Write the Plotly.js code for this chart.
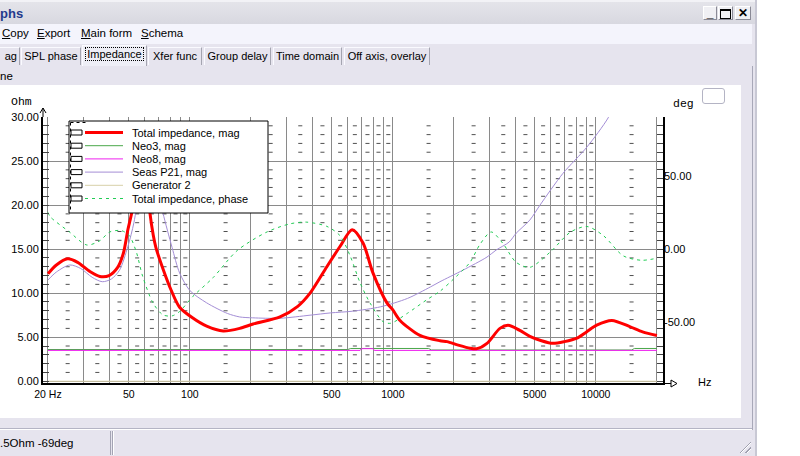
<!DOCTYPE html>
<html>
<head>
<meta charset="utf-8">
<script src="https://cdn.plot.ly/plotly-3.0.1.min.js"></script>
<style>
  html, body { margin:0; padding:0; width:800px; height:456px; overflow:hidden; background:#ffffff; font-family:"Liberation Sans", Arial, sans-serif; font-size:11px; color:#000; }
  .abs { position:absolute; white-space:nowrap; }
  #win { left:0; top:0; width:756px; height:456px; background:#e6e4ee; }
  #titlebar { left:0; top:0; width:756px; height:24px; background:linear-gradient(#e4e4ea,#d8d8e0); border-top:2px solid #f2f2f6; box-sizing:border-box; }
  #ttl { left:0; top:4px; font-weight:bold; font-size:13px; color:#243a8c; }
  .wbtn { top:6px; height:14px; background:#f0f0f4; border:1px solid #ffffff; border-right-color:#8a8a96; border-bottom-color:#8a8a96; box-sizing:border-box; font-weight:bold; font-size:12px; line-height:12px; text-align:center; }
  #menubar { left:0; top:24px; width:752px; height:20px; background:#f4f4fc; }
  .mi { top:3px; font-size:11.5px; }
  #tabbar { left:0; top:44px; width:752px; height:22px; background:#e6e4ee; }
  .tab { top:3px; height:18px; box-sizing:border-box; border:1px solid #fafaff; border-right-color:#a4a4b0; border-bottom:none; text-align:center; line-height:16px; font-size:11px; overflow:hidden; }
  .tab.sel { top:1px; height:21px; background:#eeeef6; }
  .tab.sel span { border:1px dotted #000; padding:0 1px; }
  #panel { left:0; top:85px; width:741px; height:333px; background:#ffffff; }
  #smallbtn { left:702px; top:88px; width:23px; height:16px; border:1px solid #b4b4c4; border-radius:3px; box-sizing:border-box; background:#fff; }
  #rborder { left:752px; top:66px; width:1px; height:364px; background:#a8a8b8; }
  #rborder2 { left:755px; top:0px; width:2px; height:456px; background:#c8c8d4; }
  #sline1 { left:0; top:428px; width:752px; height:1px; background:#b4b4c4; }
  #sline2 { left:0; top:429px; width:752px; height:1px; background:#ffffff; }
  #sp1 { left:0; top:431px; width:110px; height:24px; border-right:1px solid #a4a4b4; }
  #sp2 { left:112px; top:431px; width:1px; height:24px; background:#a4a4b4; }
  #sp3 { left:113px; top:431px; width:1px; height:24px; background:#ffffff; }
  #stxt { left:0; top:437px; font-size:11.5px; }
  #grip { left:738px; top:440px; width:13px; height:13px; background:repeating-linear-gradient(135deg, transparent 0 2px, #a0a0b0 2px 3px, #ffffff 3px 4px); clip-path:polygon(100% 0,100% 100%,0 100%); }
  #plot { left:0; top:0; width:800px; height:456px; }
</style>
</head>
<body>
<div id="win" class="abs"></div>
<div id="titlebar" class="abs"><div id="ttl" class="abs">phs</div></div>
<div class="abs wbtn" style="left:703px;width:14px;">_</div>
<div class="abs wbtn" style="left:718px;width:15px;"><div style="margin:2px auto 0;width:9px;height:7px;border:1px solid #000;border-top-width:2px;"></div></div>
<div class="abs wbtn" style="left:735px;width:16px;">✕</div>
<div id="menubar" class="abs">
  <span class="abs mi" style="left:2px"><u>C</u>opy</span>
  <span class="abs mi" style="left:37px"><u>E</u>xport</span>
  <span class="abs mi" style="left:81px"><u>M</u>ain form</span>
  <span class="abs mi" style="left:141px"><u>S</u>chema</span>
</div>
<div id="tabbar" class="abs">
  <div class="abs tab" style="left:-20px;width:40px;text-align:right;padding-right:2px;">ag</div>
  <div class="abs tab" style="left:21px;width:60px;">SPL phase</div>
  <div class="abs tab sel" style="left:82px;width:65px;"><span>Impedance</span></div>
  <div class="abs tab" style="left:148px;width:54px;">Xfer func</div>
  <div class="abs tab" style="left:204px;width:67px;">Group delay</div>
  <div class="abs tab" style="left:273px;width:69px;">Time domain</div>
  <div class="abs tab" style="left:344px;width:86px;">Off axis, overlay</div>
</div>
<div class="abs" style="left:0;top:70px;font-size:11.5px;">ne</div>
<div id="panel" class="abs"></div>
<div id="smallbtn" class="abs"></div>
<div id="rborder" class="abs"></div>
<div id="rborder2" class="abs"></div>
<div id="sline1" class="abs"></div>
<div id="sline2" class="abs"></div>
<div id="sp1" class="abs"></div>
<div id="sp2" class="abs"></div>
<div id="sp3" class="abs"></div>
<div id="stxt" class="abs">.5Ohm -69deg</div>
<div id="grip" class="abs"></div>
<div id="plot" class="abs"></div>
<script>
// ---------------- data ----------------
const seriesNames = ['Total impedance, mag', 'Neo3, mag', 'Neo8, mag', 'Seas P21, mag', 'Generator 2', 'Total impedance, phase'];

const freqTotal = [20, 22, 25, 28, 32, 36, 40, 44, 47, 49.5, 52, 55, 58, 61, 63.5, 66, 68, 73.6, 81, 89, 103, 121, 146, 176, 205, 278, 340, 391, 473, 549, 630, 713, 798, 935, 1000, 1085, 1360, 1707, 1850, 2100, 2400, 2600, 2910, 3370, 3700, 4200, 4730, 5400, 6150, 7000, 8070, 9000, 10100, 12000, 14700, 17000, 20000];
const zTotal    = [12.2, 13.2, 13.9, 13.5, 12.5, 11.9, 12.0, 12.9, 14.5, 17.2, 19.4, 24.0, 27.0, 23.5, 19.2, 16.6, 15.2, 12.8, 10.3, 8.4, 7.2, 6.25, 5.7, 6.0, 6.5, 7.3, 8.5, 10.0, 13.0, 15.3, 17.2, 15.7, 12.3, 8.9, 8.1, 6.9, 5.2, 4.6, 4.5, 4.1, 3.75, 3.7, 4.3, 6.0, 6.35, 5.8, 5.1, 4.6, 4.3, 4.5, 4.9, 5.6, 6.36, 6.9, 6.2, 5.6, 5.2];

const freqSeas = [20, 22, 25.6, 29, 33, 37, 41, 45, 49.5, 53, 56, 59, 62, 66, 70, 73.7, 81.7, 89, 100, 121, 153, 176, 204, 278, 391, 494, 632, 870, 1180, 1530, 1707, 2210, 2910, 3230, 3740, 4050, 4730, 5310, 6890, 9050, 11500, 13000, 16000, 20000];
const zSeas    = [11.5, 12.4, 13.2, 12.8, 11.8, 11.3, 11.6, 12.6, 15.3, 18.0, 21.5, 25.0, 27.0, 25.5, 21.5, 19.1, 15.2, 12.3, 10.3, 8.9, 7.7, 7.3, 7.2, 7.15, 7.5, 7.76, 7.95, 8.45, 9.4, 10.7, 11.3, 12.6, 14.1, 14.9, 15.8, 16.8, 18.3, 20.0, 23.6, 26.6, 29.9, 32.5, 37.0, 43.0];

const freqNeo3 = [20, 600, 620, 1500, 1550, 15000, 15500, 20000];
const zNeo3    = [3.6, 3.6, 3.72, 3.72, 3.55, 3.55, 3.72, 3.72];

const freqNeo8 = [20, 690, 700, 800, 810, 20000];
const zNeo8    = [3.5, 3.5, 3.7, 3.7, 3.5, 3.5];

const freqGen = [20, 20000];
const zGen    = [0, 0];

const freqPhase  = [20, 20.5, 25.5, 31.1, 36, 40.3, 46, 50.3, 54.5, 58.5, 65.9, 73.7, 81.7, 89, 103.5, 130, 171, 240, 311, 374, 473, 549, 616, 690, 773, 895, 977, 1180, 1470, 1707, 1980, 2400, 2680, 3050, 3480, 4050, 4730, 5960, 7520, 9050, 10900, 13660, 16800, 20000];
const phaseTotal = [25, 22.1, 11.7, 2.8, 5.7, 11.7, 12.6, 9.2, -2, -18.4, -36.8, -44.8, -45.5, -42.5, -32.2, -19.5, -1, 11.7, 17.2, 18.4, 15.5, 9.2, -4.6, -23, -36.8, -49.4, -50.5, -43.7, -34.5, -28.7, -20.7, -9, 3, 11.7, 4, -9, -12.4, -2, 11.7, 15.4, 9.2, -4.6, -7.6, -6.2];

const gridFreqs = [20, 30, 40, 50, 60, 70, 80, 90, 100, 200, 300, 400, 500, 600, 700, 800, 900, 1000, 2000, 3000, 4000, 5000, 6000, 7000, 8000, 9000, 10000, 20000];
const xTickLabelMap = {20: '20 Hz', 50: '50', 100: '100', 500: '500', 1000: '1000', 5000: '5000', 10000: '10000'};
const yTickVals = [0, 5, 10, 15, 20, 25, 30];
const y2TickVals = [-50, 0, 50];

// ---------------- geometry helpers (pixel -> paper) ----------------
const PL = 43, PR = 663, PT = 117, PB = 383;
const px = v => (v - PL) / (PR - PL);
const py = v => (PB - v) / (PB - PT);

const styles = [
  {color: '#ff0000', width: 3, dash: 'solid'},
  {color: '#4aa84a', width: 1, dash: 'solid'},
  {color: '#ee22ee', width: 1, dash: 'solid'},
  {color: '#a48ed6', width: 1, dash: 'solid'},
  {color: '#d8d0a8', width: 1, dash: 'solid'},
  {color: '#22cc55', width: 1, dash: '3px,4px'}
];

// minor dash marks at 1-Ohm steps, midway between vertical grid lines
const dashX = [], dashY = [];
for (let i = 0; i < gridFreqs.length - 1; i++) {
  const mid = (gridFreqs[i] + gridFreqs[i + 1]) / 2;
  for (let o = 1; o < 30; o++) {
    if (o % 5 !== 0) { dashX.push(mid); dashY.push(o); }
  }
}

const traces = [
  {x: dashX, y: dashY, type: 'scatter', mode: 'markers', hoverinfo: 'skip',
   marker: {symbol: 'line-ew', size: 2.9, color: '#505050', line: {color: '#505050', width: 1}}},
  {x: freqGen, y: zGen, name: seriesNames[4], type: 'scatter', mode: 'lines', line: {color: styles[4].color, width: styles[4].width}},
  {x: freqNeo3, y: zNeo3, name: seriesNames[1], type: 'scatter', mode: 'lines', line: {color: styles[1].color, width: styles[1].width}},
  {x: freqNeo8, y: zNeo8, name: seriesNames[2], type: 'scatter', mode: 'lines', line: {color: styles[2].color, width: styles[2].width}},
  {x: freqSeas, y: zSeas, name: seriesNames[3], type: 'scatter', mode: 'lines', line: {color: styles[3].color, width: styles[3].width, shape: 'spline', smoothing: 0.8}},
  {x: freqTotal, y: zTotal, name: seriesNames[0], type: 'scatter', mode: 'lines', line: {color: styles[0].color, width: styles[0].width, shape: 'spline', smoothing: 0.8}},
  {x: freqPhase, y: phaseTotal, name: seriesNames[5], type: 'scatter', mode: 'lines', yaxis: 'y2', line: {color: styles[5].color, width: styles[5].width, dash: styles[5].dash, shape: 'spline', smoothing: 0.8}}
];
traces.forEach(t => { t.showlegend = false; });

// ---------------- manual legend ----------------
const shapes = [];
const annotations = [];
const font = {family: 'Liberation Sans, Arial, sans-serif', size: 11, color: '#000'};

shapes.push({type: 'rect', xref: 'paper', yref: 'paper', x0: px(69), x1: px(268), y0: py(213), y1: py(121),
  line: {color: '#000', width: 1}, fillcolor: '#ffffff', layer: 'above'});
shapes.push({type: 'path', xref: 'paper', yref: 'paper', layer: 'above',
  path: `M${px(70.5)},${py(122.5)} L${px(86)},${py(122.5)} M${px(70.5)},${py(122.5)} L${px(70.5)},${py(212)}`,
  line: {color: '#000', width: 1, dash: 'dot'}});
seriesNames.forEach((name, i) => {
  const ry = 132.5 + i * 13.2;
  shapes.push({type: 'rect', xref: 'paper', yref: 'paper', layer: 'above', x0: px(71), x1: px(82), y0: py(ry + 2.5), y1: py(ry - 2.5),
    line: {color: '#000', width: 1}, fillcolor: '#ffffff'});
  shapes.push({type: 'line', xref: 'paper', yref: 'paper', layer: 'above', x0: px(85), x1: px(123), y0: py(ry), y1: py(ry),
    line: {color: styles[i].color, width: styles[i].width, dash: styles[i].dash}});
  annotations.push({xref: 'paper', yref: 'paper', x: px(130), y: py(ry), xanchor: 'left', yanchor: 'middle',
    text: name, showarrow: false, font: font});
});

// axis arrows
shapes.push({type: 'path', xref: 'paper', yref: 'paper', layer: 'above',
  path: `M${px(43)},${py(117)} L${px(43)},${py(108)} M${px(40)},${py(113)} L${px(43)},${py(108)} L${px(46)},${py(113)}`,
  line: {color: '#000', width: 1}});
shapes.push({type: 'path', xref: 'paper', yref: 'paper', layer: 'above',
  path: `M${px(663)},${py(383.5)} L${px(671)},${py(383.5)} M${px(671)},${py(380)} L${px(677)},${py(383.5)} L${px(671)},${py(387)} Z`,
  line: {color: '#000', width: 1}});

// axis unit labels
annotations.push({xref: 'paper', yref: 'paper', x: px(22), y: py(102), xanchor: 'center', yanchor: 'middle', text: 'Ohm', showarrow: false,
  font: {family: 'Liberation Mono, monospace', size: 11.5, color: '#000'}});
annotations.push({xref: 'paper', yref: 'paper', x: px(683), y: py(103), xanchor: 'center', yanchor: 'middle', text: 'deg', showarrow: false,
  font: {family: 'Liberation Mono, monospace', size: 11.5, color: '#000'}});
annotations.push({xref: 'paper', yref: 'paper', x: px(704), y: py(382), xanchor: 'center', yanchor: 'middle', text: 'Hz', showarrow: false, font: font});

const layout = {
  width: 800, height: 456,
  margin: {l: PL, r: 800 - PR, t: PT, b: 456 - PB, pad: 0},
  paper_bgcolor: 'rgba(0,0,0,0)', plot_bgcolor: 'rgba(0,0,0,0)',
  showlegend: false,
  font: font,
  xaxis: {
    type: 'log', range: [Math.log10(18.9), Math.log10(21430)],
    tickvals: gridFreqs, ticktext: gridFreqs.map(f => xTickLabelMap[f] || ''),
    tickangle: 0, ticks: '', showgrid: true, gridcolor: '#8a8a8a', gridwidth: 1,
    showline: true, linecolor: '#000', linewidth: 2, zeroline: false,
    tickfont: {family: 'Liberation Sans, Arial, sans-serif', size: 10.5, color: '#000'}, fixedrange: true
  },
  yaxis: {
    range: [-0.2, 30], tickvals: yTickVals, ticktext: yTickVals.map(v => v.toFixed(2)),
    showgrid: true, gridcolor: '#8a8a8a', gridwidth: 1, zeroline: false,
    showline: true, linecolor: '#000', linewidth: 2, mirror: 'ticks',
    ticks: 'inside', ticklen: 6, tickcolor: '#444', tickwidth: 1,
    minor: {dtick: 1, ticks: 'inside', ticklen: 6, tickcolor: '#444', tickwidth: 1, showgrid: false},
    tickfont: {family: 'Liberation Sans, Arial, sans-serif', size: 11, color: '#000'}, fixedrange: true
  },
  yaxis2: {
    overlaying: 'y', side: 'right', range: [-91.2, 90],
    tickvals: y2TickVals, ticktext: y2TickVals.map(v => v.toFixed(2)),
    showgrid: false, zeroline: false, showline: false, ticks: '',
    tickfont: {family: 'Liberation Sans, Arial, sans-serif', size: 11, color: '#000'}, fixedrange: true
  },
  shapes: shapes,
  annotations: annotations
};

Plotly.newPlot('plot', traces, layout, {displayModeBar: false, staticPlot: true});
</script>
</body>
</html>
